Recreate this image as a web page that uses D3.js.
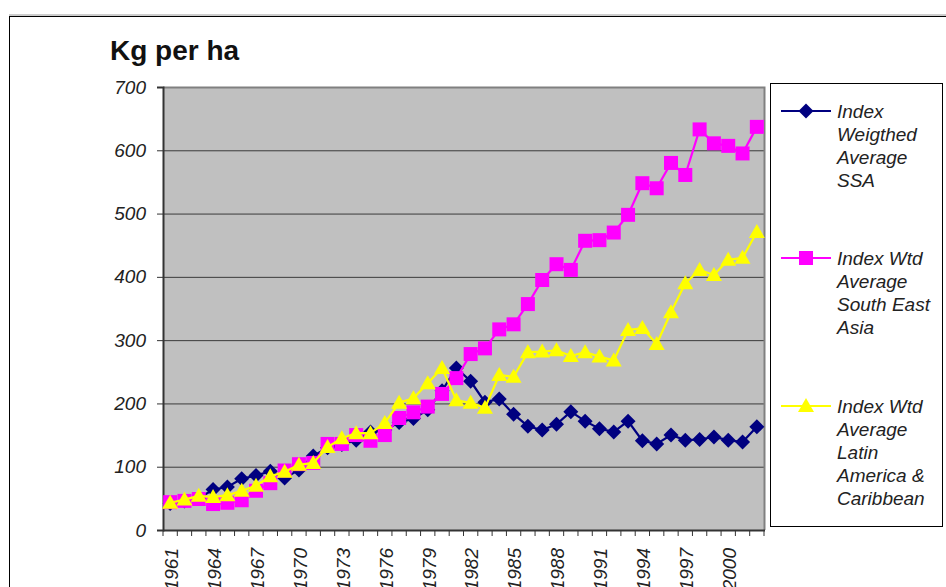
<!DOCTYPE html>
<html>
<head>
<meta charset="utf-8">
<script src="https://cdn.jsdelivr.net/npm/d3@7"></script>
<style>
    body { margin: 0; background: #fff; }
    svg { display: block; font-family: "Liberation Sans", Arial, sans-serif; }
</style>
</head>
<body>
<div id="chart"></div>
<script>
var years = d3.range(1961, 2003);

var ssa = [42, 46, 50, 64, 68, 81, 86, 93, 82, 95, 117, 130, 135, 142, 155, 158, 170, 176, 190, 220,
    256, 235, 202, 207, 183, 164, 158, 167, 187, 172, 160, 155, 172, 141, 136, 150, 142, 143, 147, 142,
    139, 163];

var seAsia = [44, 46, 49, 41, 43, 47, 62, 74, 94, 104, 106, 136, 136, 150, 141, 150, 177, 186, 195, 215,
    240, 278, 287, 317, 325, 357, 395, 420, 411, 457, 458, 470, 498, 548, 540, 580, 561, 633, 611, 607,
    595, 637];

var latin = [43, 48, 54, 52, 55, 62, 70, 85, 92, 103, 106, 131, 145, 153, 153, 169, 201, 208, 232, 256,
    205, 201, 193, 245, 242, 281, 282, 284, 275, 281, 274, 268, 316, 319, 294, 344, 390, 411, 403, 427,
    430, 471];

var yTicks = [0, 100, 200, 300, 400, 500, 600, 700];
var xLabels = [1961, 1964, 1967, 1970, 1973, 1976, 1979, 1982, 1985, 1988, 1991, 1994, 1997, 2000];

var legendLabels = [
    ["Index", "Weigthed", "Average", "SSA"],
    ["Index Wtd", "Average", "South East", "Asia"],
    ["Index Wtd", "Average", "Latin", "America &", "Caribbean"]
];

(function() {
    var width = 946, height = 587;
    var plot = { left: 163, right: 764, top: 87, bottom: 530 };
    var fontSize = "19px";

    var svg = d3.select("#chart").append("svg")
        .attr("width", width)
        .attr("height", height);

    // chart frame (runs off the right and bottom of the picture)
    svg.append("line")
        .attr("x1", 9).attr("x2", width).attr("y1", 15).attr("y2", 15)
        .attr("stroke", "#9a9a9a").attr("stroke-width", 1);
    svg.append("rect")
        .attr("x", 9.5).attr("y", 16.5)
        .attr("width", width).attr("height", height)
        .attr("fill", "none").attr("stroke", "#000").attr("stroke-width", 1);

    svg.append("text")
        .attr("x", 110).attr("y", 60)
        .attr("font-size", "28px").attr("font-weight", "bold")
        .attr("fill", "#111")
        .text("Kg per ha");

    var x = d3.scaleBand()
        .domain(years)
        .range([plot.left, plot.right])
        .padding(0);

    var y = d3.scaleLinear()
        .domain([0, 700])
        .range([plot.bottom, plot.top]);

    svg.append("rect")
        .attr("x", plot.left).attr("y", plot.top)
        .attr("width", plot.right - plot.left)
        .attr("height", plot.bottom - plot.top)
        .attr("fill", "#c0c0c0");

    // gridlines
    svg.append("g")
        .selectAll("line")
        .data(yTicks.filter(function(d) { return d > 0 && d < 700; }))
        .enter().append("line")
        .attr("x1", plot.left).attr("x2", plot.right)
        .attr("y1", function(d) { return y(d) + 0.5; })
        .attr("y2", function(d) { return y(d) + 0.5; })
        .attr("stroke", "#3a3a3a").attr("stroke-width", 1);

    // plot area border: top and right in grey
    svg.append("path")
        .attr("d", "M" + plot.left + "," + (plot.top + 0.5) + "H" + (plot.right + 0.5) + "V" + plot.bottom)
        .attr("fill", "none").attr("stroke", "#808080").attr("stroke-width", 2);

    // y axis
    var yAxis = d3.axisLeft(y)
        .tickValues(yTicks)
        .tickSize(6)
        .tickPadding(11);
    var yg = svg.append("g")
        .attr("transform", "translate(" + plot.left + ",0)")
        .call(yAxis);
    yg.select(".domain").attr("stroke", "#333").attr("stroke-width", 2);
    yg.selectAll(".tick line").attr("stroke", "#333");
    yg.selectAll(".tick text")
        .attr("font-size", fontSize).attr("font-style", "italic")
        .attr("font-family", "Liberation Sans, Arial, sans-serif")
        .attr("fill", "#222");

    // x axis: ticks between categories
    var xg = svg.append("g");
    xg.append("line")
        .attr("x1", plot.left).attr("x2", plot.right + 1)
        .attr("y1", plot.bottom + 0.5).attr("y2", plot.bottom + 0.5)
        .attr("stroke", "#333").attr("stroke-width", 2);
    xg.selectAll(".xtick")
        .data(years.concat([2003]))
        .enter().append("line")
        .attr("class", "xtick")
        .attr("x1", function(d) { return d === 2003 ? plot.right : x(d); })
        .attr("x2", function(d) { return d === 2003 ? plot.right : x(d); })
        .attr("y1", plot.bottom).attr("y2", plot.bottom + 6)
        .attr("stroke", "#333").attr("stroke-width", 1);
    xg.selectAll(".xlabel")
        .data(xLabels)
        .enter().append("text")
        .attr("class", "xlabel")
        .attr("transform", function(d) {
            return "translate(" + (x(d) + x.bandwidth() / 2 + 1) + "," + 548 + ") rotate(-90)";
        })
        .attr("dy", "0.36em")
        .attr("text-anchor", "end")
        .attr("font-size", fontSize).attr("font-style", "italic")
        .attr("fill", "#222")
        .text(function(d) { return d; });

    var cx = function(d, i) { return x(years[i]) + x.bandwidth() / 2; };

    var series = [
        { values: ssa, color: "#000080", shape: "diamond" },
        { values: seAsia, color: "#ff00ff", shape: "square" },
        { values: latin, color: "#ffff00", shape: "triangle" }
    ];

    function markerPath(shape) {
        if (shape === "diamond") return "M0,-7.5L7.5,0L0,7.5L-7.5,0Z";
        if (shape === "square") return "M-7,-7H7V7H-7Z";
        return "M0,-8L8,6H-8Z";
    }

    var line = d3.line()
        .x(cx)
        .y(function(d) { return y(d); });

    series.forEach(function(s) {
        var g = svg.append("g");
        g.append("path")
            .datum(s.values)
            .attr("d", line)
            .attr("fill", "none")
            .attr("stroke", s.color)
            .attr("stroke-width", 2.2);
        g.selectAll("path.marker")
            .data(s.values)
            .enter().append("path")
            .attr("class", "marker")
            .attr("transform", function(d, i) { return "translate(" + cx(d, i) + "," + y(d) + ")"; })
            .attr("d", markerPath(s.shape))
            .attr("fill", s.color);
    });

    // legend
    var legend = svg.append("g");
    legend.append("rect")
        .attr("x", 770.5).attr("y", 83.5)
        .attr("width", 172).attr("height", 443)
        .attr("fill", "#fff").attr("stroke", "#000").attr("stroke-width", 1);

    var legendY = [111, 258, 406];
    series.forEach(function(s, k) {
        var ly = legendY[k];
        legend.append("line")
            .attr("x1", 781).attr("x2", 831)
            .attr("y1", ly).attr("y2", ly)
            .attr("stroke", s.color).attr("stroke-width", 2.2);
        legend.append("path")
            .attr("transform", "translate(806," + ly + ")")
            .attr("d", markerPath(s.shape))
            .attr("fill", s.color);
        legend.selectAll(null)
            .data(legendLabels[k])
            .enter().append("text")
            .attr("x", 837)
            .attr("y", function(d, i) { return ly + 7 + i * 23; })
            .attr("font-size", fontSize).attr("font-style", "italic")
            .attr("fill", "#222")
            .text(function(d) { return d; });
    });
})();
</script>
</body>
</html>
